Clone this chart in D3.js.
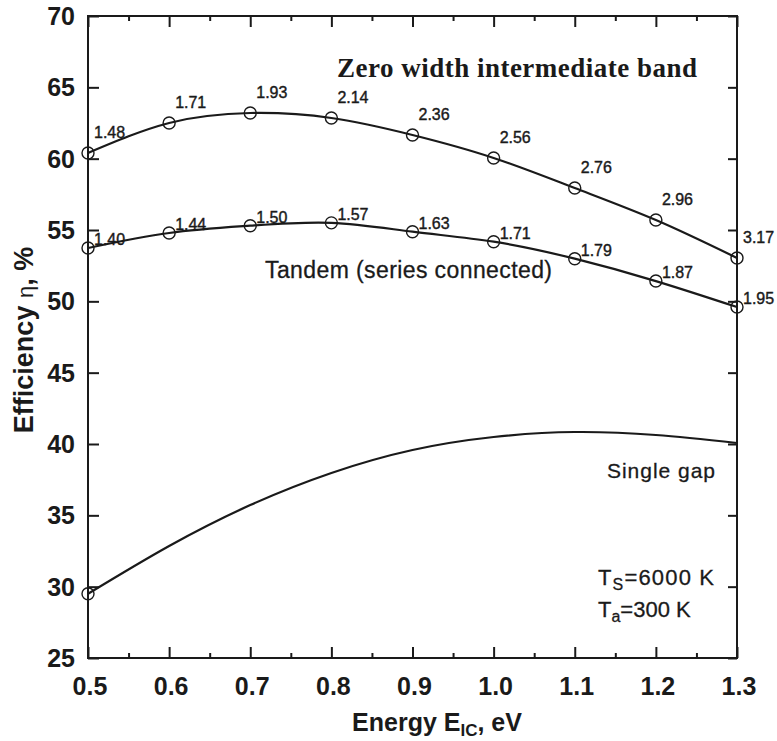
<!DOCTYPE html>
<html>
<head>
<meta charset="utf-8">
<script src="https://cdn.jsdelivr.net/npm/d3@7"></script>
<style>
  body { margin: 0; background: #fff; }
  svg text { font-family: "Liberation Sans", Arial, sans-serif; fill: #1a1a1a; }
</style>
</head>
<body>
<svg id="chart" width="777" height="741"></svg>
<script>
// values
var energies = [0.5, 0.6, 0.7, 0.8, 0.9, 1.0, 1.1, 1.2, 1.3];
var ibEff = [60.4, 62.5, 63.2, 62.85, 61.66, 60.05, 57.94, 55.7, 53.04];
var ibGaps = ["1.48", "1.71", "1.93", "2.14", "2.36", "2.56", "2.76", "2.96", "3.17"];
var tandemEff = [53.74, 54.79, 55.3, 55.5, 54.88, 54.18, 52.99, 51.42, 49.6];
var tandemGaps = ["1.40", "1.44", "1.50", "1.57", "1.63", "1.71", "1.79", "1.87", "1.95"];
var singleEff = [29.5, 32.85, 35.72, 37.97, 39.58, 40.49, 40.84, 40.63, 40.07];
var xTicks = [0.5, 0.6, 0.7, 0.8, 0.9, 1.0, 1.1, 1.2, 1.3];
var xMinorTicks = [0.55, 0.65, 0.75, 0.85, 0.95, 1.05, 1.15, 1.25];
var yTicks = [25, 30, 35, 40, 45, 50, 55, 60, 65, 70];

var chart = function() {
    var svg = d3.select("#chart");
    var left = 88, right = 737, top = 16, bottom = 658;
    var ink = "#1a1a1a";

    var x = d3.scaleLinear().domain([0.5, 1.3]).range([left, right]);
    var y = d3.scaleLinear().domain([25, 70]).range([bottom, top]);

    // frame
    svg.append("rect")
        .attr("x", left).attr("y", top)
        .attr("width", right - left).attr("height", bottom - top)
        .attr("fill", "none").attr("stroke", ink).attr("stroke-width", 2);

    // inward ticks on all four sides
    function tickAxis(axis, ticks, size, g) {
        return svg.append("g").attr("transform", g)
            .call(axis.tickValues(ticks).tickSize(size).tickFormat(""))
            .call(function(s) {
                s.select(".domain").remove();
                s.selectAll("line").attr("stroke", ink).attr("stroke-width", 2);
            });
    }
    tickAxis(d3.axisTop(x), xTicks, 11, "translate(0," + bottom + ")");
    tickAxis(d3.axisTop(x), xMinorTicks, 5, "translate(0," + bottom + ")");
    tickAxis(d3.axisBottom(x), xTicks, 11, "translate(0," + top + ")");
    tickAxis(d3.axisBottom(x), xMinorTicks, 5, "translate(0," + top + ")");
    tickAxis(d3.axisRight(y), yTicks, 11, "translate(" + left + ",0)");
    tickAxis(d3.axisLeft(y), yTicks, 9, "translate(" + right + ",0)");

    // tick labels
    svg.append("g").selectAll("text").data(xTicks).join("text")
        .attr("x", function(d) { return x(d) + 2; })
        .attr("y", 695)
        .attr("text-anchor", "middle")
        .style("font-size", "25px").style("font-weight", "bold")
        .text(d3.format(".1f"));
    svg.append("g").selectAll("text").data(yTicks).join("text")
        .attr("x", 75)
        .attr("y", function(d) { return y(d) + 9; })
        .attr("text-anchor", "end")
        .style("font-size", "25px").style("font-weight", "bold")
        .text(function(d) { return d; });

    // axis titles
    var xt = svg.append("text")
        .attr("x", 437).attr("y", 731)
        .attr("text-anchor", "middle")
        .style("font-size", "25px").style("font-weight", "bold");
    xt.append("tspan").text("Energy E");
    xt.append("tspan").attr("dy", 5).style("font-size", "17px").text("IC");
    xt.append("tspan").attr("dy", -5).text(", eV");

    var yt = svg.append("text")
        .attr("transform", "translate(33,340) rotate(-90)")
        .attr("text-anchor", "middle")
        .style("font-size", "27px").style("font-weight", "bold");
    yt.append("tspan").text("Efficiency ");
    yt.append("tspan").style("font-weight", "normal").style("font-size", "22px").text("\u03b7");
    yt.append("tspan").text(", %");

    // curves
    var line = d3.line()
        .x(function(d) { return x(d[0]); })
        .y(function(d) { return y(d[1]); })
        .curve(d3.curveNatural);

    function series(values, marked) {
        var pts = energies.map(function(e, i) { return [e, values[i]]; });
        svg.append("path").datum(pts)
            .attr("d", line)
            .attr("fill", "none").attr("stroke", ink).attr("stroke-width", 2.2);
        svg.append("g").selectAll("circle").data(marked ? pts : pts.slice(0, 1)).join("circle")
            .attr("cx", function(d) { return x(d[0]); })
            .attr("cy", function(d) { return y(d[1]); })
            .attr("r", 6)
            .attr("fill", "none").attr("stroke", ink).attr("stroke-width", 1.4);
        return pts;
    }

    function gapLabels(pts, labels, dy) {
        svg.append("g").selectAll("text").data(pts).join("text")
            .attr("x", function(d) { return x(d[0]) + 6; })
            .attr("y", function(d) { return y(d[1]) + dy; })
            .style("font-size", "16px")
            .style("stroke", ink).style("stroke-width", 0.4)
            .text(function(d, i) { return labels[i]; });
    }

    gapLabels(series(ibEff, true), ibGaps, -15);
    gapLabels(series(tandemEff, true), tandemGaps, -3);
    series(singleEff, false);

    // annotations
    svg.append("text")
        .attr("x", 337).attr("y", 77)
        .attr("textLength", 360)
        .style("font-family", "'Liberation Serif', 'Times New Roman', serif")
        .style("font-size", "27px").style("font-weight", "bold")
        .text("Zero width intermediate band");

    svg.append("text")
        .attr("x", 265).attr("y", 278)
        .attr("textLength", 287)
        .style("font-size", "23px")
        .style("stroke", ink).style("stroke-width", 0.3)
        .text("Tandem (series connected)");

    svg.append("text")
        .attr("x", 607).attr("y", 478)
        .attr("textLength", 108)
        .style("font-size", "21px")
        .style("stroke", ink).style("stroke-width", 0.3)
        .text("Single gap");

    var ts = svg.append("text").attr("x", 598).attr("y", 585)
        .attr("textLength", 116)
        .style("font-size", "22px").style("stroke", ink).style("stroke-width", 0.3);
    ts.append("tspan").text("T");
    ts.append("tspan").attr("dy", 5).style("font-size", "16px").text("S");
    ts.append("tspan").attr("dy", -5).text("=6000 K");

    var ta = svg.append("text").attr("x", 598).attr("y", 617)
        .style("font-size", "22px").style("stroke", ink).style("stroke-width", 0.3);
    ta.append("tspan").text("T");
    ta.append("tspan").attr("dy", 5).style("font-size", "16px").text("a");
    ta.append("tspan").attr("dy", -5).text("=300 K");
}();
</script>
</body>
</html>
